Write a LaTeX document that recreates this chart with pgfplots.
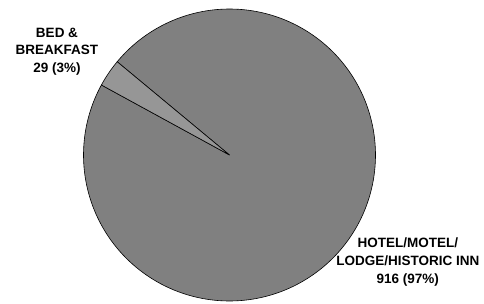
\documentclass[border=0pt]{standalone}
\usepackage{pgfplots}
\usepackage{pgfplotstable}
\pgfplotsset{compat=1.18}
\usepackage{fontspec}
\setmainfont{Liberation Sans}
\definecolor{hotelgray}{HTML}{808080}
\definecolor{bbgray}{HTML}{969696}
\pgfplotstableread{
label value
Hotel 916
BB 29
}\datatable
\pgfplotstablegetelem{0}{value}\of\datatable \let\vA\pgfplotsretval
\pgfplotstablegetelem{1}{value}\of\datatable \let\vB\pgfplotsretval
\pgfmathsetmacro\startB{140.3}
\pgfmathsetmacro\endB{\startB+360*\vB/(\vA+\vB)}
\pgfmathsetmacro\endA{\startB+360}
\def\cx{229.5}
\def\cy{148}
\def\rr{146}
\begin{document}
\begin{tikzpicture}
\begin{axis}[
  scale only axis, width=484pt, height=303pt,
  xmin=0, xmax=484, ymin=0, ymax=303,
  hide axis, clip=false,
]
\addplot[draw=none] coordinates {(0,0) (484,303)};
\addplot[fill=hotelgray, draw=black, line width=0.6pt, domain=\endB:\endA, samples=240, variable=\t, smooth]
  ({\cx+\rr*cos(\t)},{\cy+\rr*sin(\t)}) -- (\cx,\cy) -- cycle;
\addplot[fill=bbgray, draw=black, line width=0.6pt, domain=\startB:\endB, samples=20, variable=\t]
  ({\cx+\rr*cos(\t)},{\cy+\rr*sin(\t)}) -- (\cx,\cy) -- cycle;
\node[align=center, font=\fontsize{13.5}{17.5}\selectfont\bfseries] at (57,251.5) {BED \&\\BREAKFAST\\29 (3\%)};
\node[align=center, font=\fontsize{13.5}{18.4}\selectfont\bfseries] at (407.8,41) {HOTEL/MOTEL/\\LODGE/HISTORIC INN\\916 (97\%)};
\end{axis}
\end{tikzpicture}
\end{document}
